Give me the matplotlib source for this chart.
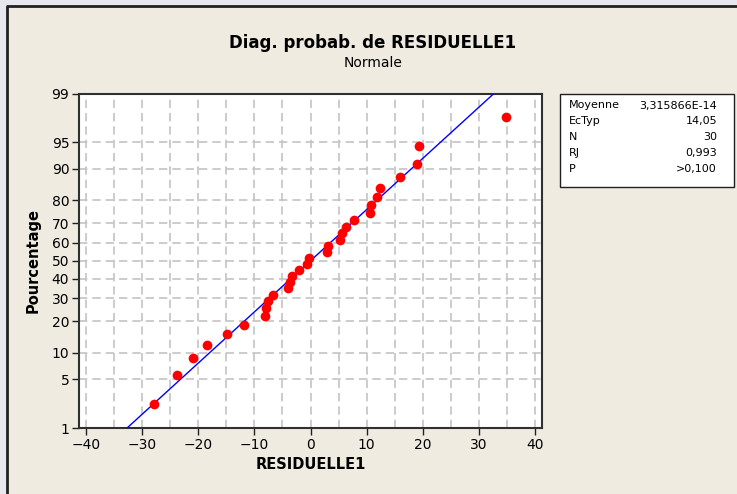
import numpy as np
import matplotlib
matplotlib.use("Agg")
import matplotlib.pyplot as plt
from matplotlib.patches import Rectangle
from matplotlib.lines import Line2D
from statistics import NormalDist

# residuals (sorted)
residuals = [-27.9, -23.7, -20.9, -18.5, -14.9, -11.8, -8.1, -7.9, -7.65, -6.7,
             -4.0, -3.7, -3.3, -2.1, -0.7, -0.3, 3.08, 2.97, 5.2, 5.6,
             6.4, 7.8, 10.55, 10.8, 11.9, 12.3, 16.0, 19.0, 19.4, 34.9]
mean = 3.315866e-14
sd = 14.05
stat_labels = ["Moyenne", "EcTyp", "N", "RJ", "P"]
stat_values = ["3,315866E-14", "14,05", "30", "0,993", ">0,100"]
y_ticks = [1, 5, 10, 20, 30, 40, 50, 60, 70, 80, 90, 95, 99]
x_ticks = [-40, -30, -20, -10, 0, 10, 20, 30, 40]

nd = NormalDist()
_inv = np.vectorize(lambda p: nd.inv_cdf(min(max(p / 100.0, 1e-9), 1 - 1e-9)),
                    otypes=[float])
_cdf = np.vectorize(lambda z: nd.cdf(z) * 100.0, otypes=[float])


def forward(p):
    return _inv(np.asarray(p, dtype=float))


def inverse(z):
    return _cdf(np.asarray(z, dtype=float))


# median ranks (Benard) as used for the probability plot
n = len(residuals)
xs = np.sort(residuals)
pct = (np.arange(1, n + 1) - 0.3) / (n + 0.4) * 100

# fitted normal line from 1% to 99%
x_lo = nd.inv_cdf(0.01) * sd + mean
x_hi = nd.inv_cdf(0.99) * sd + mean
line_x = np.linspace(x_lo, x_hi, 60)
line_y = np.array([NormalDist(mean, sd).cdf(v) * 100 for v in line_x])

W, H = 737, 494
fig = plt.figure(figsize=(W / 100, H / 100), dpi=100)
fig.patch.set_facecolor("#E7E7F0")
plt.rcParams["font.family"] = "DejaVu Sans"

# beige panel with dark left/top border
fig.add_artist(Rectangle((6 / W, 0), 1, 1 - 6 / H, transform=fig.transFigure,
                         facecolor="#EFEBE1", edgecolor="none", zorder=0))
fig.add_artist(Line2D([6.5 / W, 6.5 / W, 1], [0, 1 - 6.5 / H, 1 - 6.5 / H],
                      transform=fig.transFigure, color="#202020", lw=2, zorder=1))

ax = fig.add_axes([79 / W, 1 - 428 / H, (542 - 79) / W, (428 - 93.5) / H])
ax.set_facecolor("white")
ax.set_yscale("function", functions=(forward, inverse))
ax.set_ylim(1, 99)
ax.set_xlim(-41.25, 41.25)

ax.set_yticks(y_ticks)
ax.set_yticklabels([str(t) for t in y_ticks])
ax.yaxis.set_minor_locator(matplotlib.ticker.NullLocator())
ax.set_xticks(x_ticks)
ax.set_xticks(np.arange(-40, 41, 5), minor=True)
ax.tick_params(axis="both", which="major", labelsize=10, length=5, width=1,
               color="#202020", labelcolor="black", pad=2)
ax.tick_params(axis="x", which="minor", length=0)

ax.grid(True, which="both", axis="x", color="#C4C4C4", linestyle=(0, (5, 3)), lw=1.2)
ax.grid(True, which="major", axis="y", color="#C4C4C4", linestyle=(0, (5, 3)), lw=1.2)
ax.set_axisbelow(True)

for side in ["left", "bottom", "top", "right"]:
    ax.spines[side].set_color("#303030")
    ax.spines[side].set_linewidth(1.5)

ax.plot(line_x, line_y, color="#0000FF", lw=1, zorder=3)
ax.plot(xs, pct, "o", color="#FF0000", markersize=7, markeredgewidth=0, zorder=4)

ax.set_xlabel("RESIDUELLE1", fontsize=10.5, fontweight="bold", labelpad=4)
ax.set_ylabel("Pourcentage", fontsize=10.5, fontweight="bold", labelpad=8)

fig.text(373 / W, 1 - 43 / H, "Diag. probab. de RESIDUELLE1", fontsize=12,
         fontweight="bold", ha="center", va="center")
fig.text(373 / W, 1 - 63 / H, "Normale", fontsize=10, ha="center", va="center")

# stats box
fig.add_artist(Rectangle((560 / W, 1 - 187 / H), 174 / W, 93 / H,
                         transform=fig.transFigure, facecolor="white",
                         edgecolor="#202020", lw=1, zorder=2))
for i, (lab, val) in enumerate(zip(stat_labels, stat_values)):
    yy = 1 - (105.5 + i * 15.8) / H
    fig.text(569 / W, yy, lab, fontsize=8, ha="left", va="center", zorder=3)
    fig.text(717 / W, yy, val, fontsize=8, ha="right", va="center", zorder=3)

fig.savefig("out.png", dpi=100, facecolor=fig.get_facecolor())
